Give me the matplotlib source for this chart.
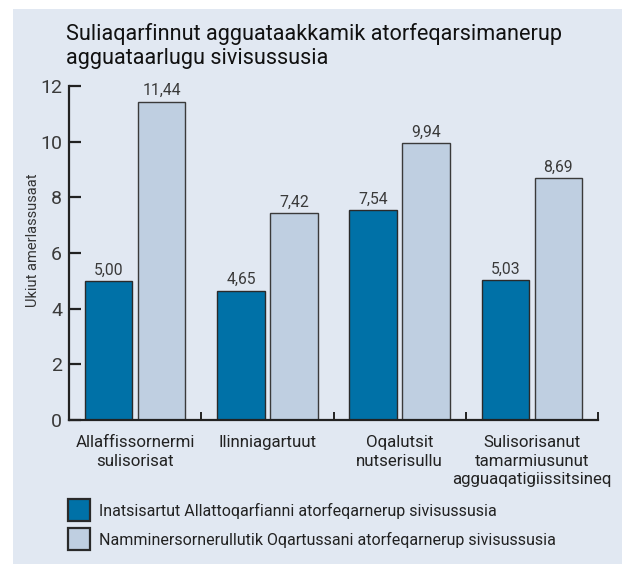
import matplotlib
matplotlib.use("Agg")
import matplotlib.pyplot as plt
from matplotlib.patches import Rectangle
import numpy as np

plt.rcParams['font.family'] = ['Roboto', 'DejaVu Sans']

title = "Suliaqarfinnut agguataakkamik atorfeqarsimanerup\nagguataarlugu sivisussusia"
categories = ["Allaffissornermi\nsulisorisat", "Ilinniagartuut", "Oqalutsit\nnutserisullu",
              "Sulisorisanut\ntamarmiusunut\nagguaqatigiissitsineq"]
series_names = ["Inatsisartut Allattoqarfianni atorfeqarnerup sivisussusia",
                "Namminersornerullutik Oqartussani atorfeqarnerup sivisussusia"]
values_a = [5.00, 4.65, 7.54, 5.03]
values_b = [11.44, 7.42, 9.94, 8.69]
ylabel = "Ukiut amerlassusaat"
yticks = [0, 2, 4, 6, 8, 10, 12]

dark = "#0071A7"
light = "#BFCFE1"
bg = "#E1E8F2"
ink = "#222222"
series_colors = [dark, light]

W, H = 622, 564
fig = plt.figure(figsize=(W / 100, H / 100), dpi=100)
fig.patches.append(Rectangle((13 / W, 0), 1, 1 - 9 / H, transform=fig.transFigure,
                             facecolor=bg, edgecolor='none', zorder=-10))

ax = fig.add_axes([69 / W, (H - 420) / H, (598 - 69) / W, (420 - 86) / H])
ax.set_facecolor('none')

x = np.arange(len(categories))
bw = 0.36
ba = ax.bar(x - 0.2, values_a, width=bw, color=dark, edgecolor='#2a2a2a', linewidth=1,
            label=series_names[0], zorder=2)
bb = ax.bar(x + 0.2, values_b, width=bw, color=light, edgecolor='#3a3a3a', linewidth=1,
            label=series_names[1], zorder=2)

def fmt(v):
    return f"{v:.2f}".replace('.', ',')

for xi, v in zip(x - 0.2, values_a):
    ax.annotate(fmt(v), (xi, v), xytext=(0, 2.5), textcoords='offset points',
                ha='center', va='bottom', fontsize=11.3, color='#3a3a3a')
for xi, v in zip(x + 0.2, values_b):
    ax.annotate(fmt(v), (xi, v), xytext=(0, 2.5), textcoords='offset points',
                ha='center', va='bottom', fontsize=11.3, color='#3a3a3a')

ax.set_xlim(-0.5, 3.5)
ax.set_ylim(0, 12)
for s in ['top', 'right']:
    ax.spines[s].set_visible(False)
for s in ['left', 'bottom']:
    ax.spines[s].set_linewidth(1.6)
    ax.spines[s].set_color(ink)

ax.set_yticks(yticks)
ax.set_yticklabels([str(t) for t in yticks], fontsize=14, color='#3a3a3a')
ax.tick_params(axis='y', direction='in', length=8.5, width=1.6, color=ink, pad=5)

ax.set_xticks([0.5, 1.5, 2.5, 3.5])
ax.set_xticklabels([])
ax.tick_params(axis='x', direction='in', length=5.5, width=1.4, color=ink)
ax.set_xticks(x, minor=True)
ax.set_xticklabels(categories, minor=True, fontsize=12.2, color=ink, linespacing=1.3)
ax.tick_params(axis='x', which='minor', length=0, pad=11)

fig.text(33 / W, 1 - 240 / H, ylabel, rotation=90, ha='center', va='center',
         fontsize=10.5, color='#333333')

fig.text(66 / W, 1 - 23 / H, title, ha='left', va='top', fontsize=15.6,
         fontweight='normal', color='#111111', linespacing=1.2)

# legend (drawn manually as square swatches + labels)
sq = 22
for i, (name, col) in enumerate(zip(series_names, series_colors)):
    top = 499 + i * 29
    fig.patches.append(Rectangle((68 / W, 1 - (top + sq) / H), sq / W, sq / H,
                                 transform=fig.transFigure, facecolor=col,
                                 edgecolor='#2a2a2a', linewidth=1.6))
    fig.text(99 / W, 1 - (top + sq / 2 + 1) / H, name, ha='left', va='center',
             fontsize=11.5, color=ink)

fig.savefig("out.png", dpi=100)
